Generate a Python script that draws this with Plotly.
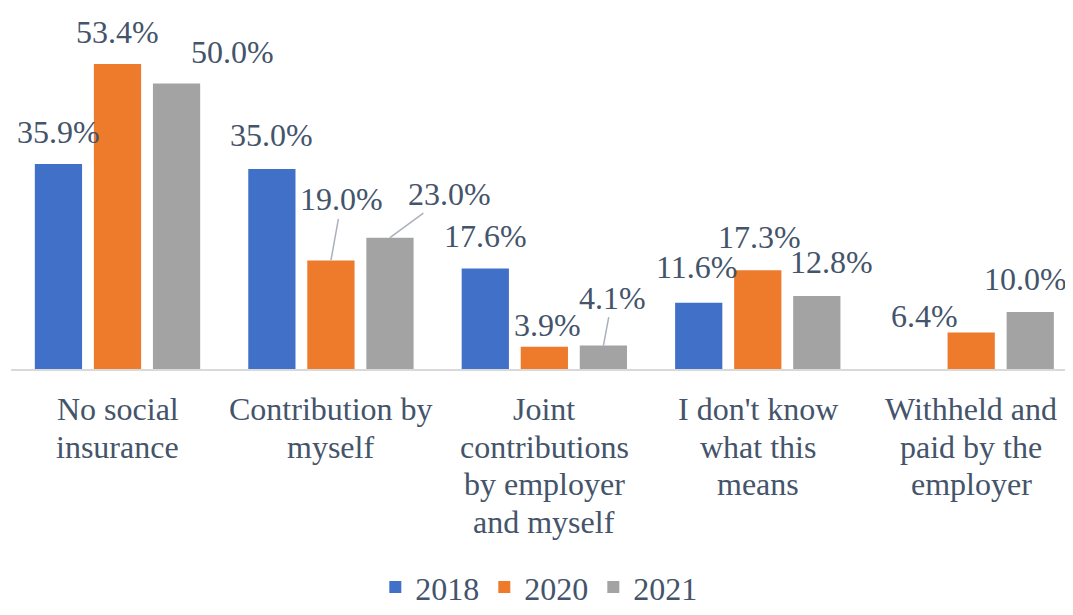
import plotly.graph_objects as go

# ---------------- data ----------------
categories = [
    ["No social", "insurance"],
    ["Contribution by", "myself"],
    ["Joint", "contributions", "by employer", "and myself"],
    ["I don't know", "what this", "means"],
    ["Withheld and", "paid by the", "employer"],
]
series_names = ["2018", "2020", "2021"]
values_2018 = [35.9, 35.0, 17.6, 11.6, None]
values_2020 = [53.4, 19.0, 3.9, 17.3, 6.4]
values_2021 = [50.0, 23.0, 4.1, 12.8, 10.0]
series_values = [values_2018, values_2020, values_2021]

# ---------------- style ----------------
colors = ["#4170C9", "#EE7A2C", "#A3A3A3"]
text_color = "#44546A"
font_family = "'Times New Roman', 'Liberation Serif', 'DejaVu Serif', serif"
fs = 32

BARGAP = 0.17
BARGROUPGAP = 0.2
slot = (1 - BARGAP) / 3.0

# label offsets (series index, category index) -> (dx, dy, leader)
label_offsets = {
    (2, 0): (56, 31, False),
    (0, 1): (0, 34, False),
    (1, 1): (11, 61, True),
    (2, 1): (60, 44, True),
    (1, 2): (3, 22, False),
    (2, 2): (9, 48, True),
    (0, 3): (-2, 36, False),
    (1, 3): (2, 33, False),
    (2, 3): (15, 34, False),
    (1, 4): (-47, 16, False),
    (2, 4): (-5, 33, False),
}

fig = go.Figure()
xs = list(range(len(categories)))
for s, (name, vals) in enumerate(zip(series_names, series_values)):
    fig.add_trace(go.Bar(
        x=xs, y=vals, name=name,
        marker=dict(color=colors[s], line=dict(width=0)),
        hoverinfo="skip",
    ))

annotations = []
for s, vals in enumerate(series_values):
    for i, v in enumerate(vals):
        if v is None:
            continue
        dx, dy, leader = label_offsets.get((s, i), (0, 32, False))
        xpos = i + (s - 1) * slot
        if leader:
            annotations.append(dict(
                x=xpos, y=v, xref="x", yref="y", text=f"{v:.1f}%",
                showarrow=True, arrowhead=0, arrowwidth=1.5, arrowcolor="#A9B1BC",
                ax=dx, ay=-dy, standoff=0, startstandoff=0,
                font=dict(family=font_family, size=fs, color=text_color),
            ))
        else:
            annotations.append(dict(
                x=xpos, y=v, xref="x", yref="y", text=f"{v:.1f}%",
                showarrow=False, xshift=dx, yshift=dy, yanchor="middle",
                font=dict(family=font_family, size=fs, color=text_color),
            ))

# category labels (one annotation per line to control line spacing)
for i, lines in enumerate(categories):
    for j, line in enumerate(lines):
        annotations.append(dict(
            x=i, y=0, xref="x", yref="paper", text=line, showarrow=False,
            yanchor="middle", yshift=-(40 + 37.5 * j),
            font=dict(family=font_family, size=fs, color=text_color),
        ))

fig.update_layout(
    width=1065, height=607,
    margin=dict(l=3, r=0, t=20, b=230),
    paper_bgcolor="white", plot_bgcolor="white",
    barmode="group", bargap=BARGAP, bargroupgap=BARGROUPGAP,
    font=dict(family=font_family, size=fs, color=text_color),
    showlegend=True,
    legend=dict(orientation="h", x=0.497, xanchor="center", y=-0.64, yanchor="middle",
                font=dict(family=font_family, size=fs, color=text_color),
                itemwidth=30, traceorder="normal"),
    annotations=annotations,
)
fig.update_xaxes(range=[-0.499, 4.477], showticklabels=False, ticks="",
                 showline=True, linecolor="#D9D9D9", linewidth=2, showgrid=False,
                 zeroline=False, fixedrange=True)
fig.update_yaxes(range=[0, 59.7], visible=False, showgrid=False, zeroline=False,
                 fixedrange=True)

fig.write_html("out.html")
